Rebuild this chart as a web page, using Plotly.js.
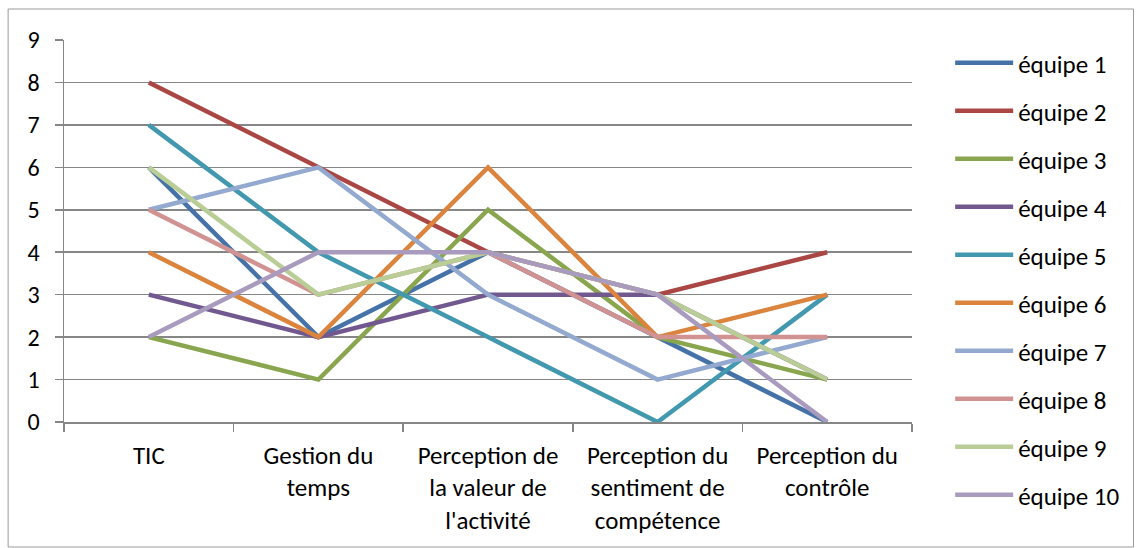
<!DOCTYPE html>
<html><head><meta charset="utf-8">
<script src="https://cdn.plot.ly/plotly-3.0.1.min.js"></script>
<style>html,body{margin:0;padding:0;background:#fff;}#chart{width:1137px;height:548px;}</style>
</head><body><div id="chart"></div>
<script>
const categories = ["TIC", "Gestion du<br>temps", "Perception de<br>la valeur de<br>l'activité", "Perception du<br>sentiment de<br>compétence", "Perception du<br>contrôle"];
const seriesNames = ["équipe 1","équipe 2","équipe 3","équipe 4","équipe 5","équipe 6","équipe 7","équipe 8","équipe 9","équipe 10"];
const equipe1 = [6, 2, 4, 2, 0];
const equipe2 = [8, 6, 4, 3, 4];
const equipe3 = [2, 1, 5, 2, 1];
const equipe4 = [3, 2, 3, 3, 1];
const equipe5 = [7, 4, 2, 0, 3];
const equipe6 = [4, 2, 6, 2, 3];
const equipe7 = [5, 6, 3, 1, 2];
const equipe8 = [5, 3, 4, 2, 2];
const equipe9 = [6, 3, 4, 3, 1];
const equipe10 = [2, 4, 4, 3, 0];
const yTicks = [0,1,2,3,4,5,6,7,8,9];

const seriesValues = [equipe1,equipe2,equipe3,equipe4,equipe5,equipe6,equipe7,equipe8,equipe9,equipe10];
const colors = ["#4572A7","#AA4643","#89A54E","#71588F","#4198AF","#DB843D","#93A9CF","#D19392","#B9CD96","#A99BBD"];

const traces = seriesValues.map((v,i)=>({
  type:"scatter", mode:"lines", x:categories, y:v, name:seriesNames[i],
  legendgroup:"g"+i,
  line:{color:colors[i], width:4.5}
}));

const FONT = "Carlito, Lato, sans-serif";
const layout = {
  width:1137, height:548,
  margin:{l:64, r:223, t:40, b:126},
  paper_bgcolor:"#fff", plot_bgcolor:"#fff",
  font:{family:FONT, size:25, color:"#000"},
  showlegend:true,
  legend:{x:1.045, xanchor:"left", y:1.0, yanchor:"top", tracegroupgap:12.5, maxheight:540, itemwidth:58,
          font:{family:FONT, size:25, color:"#000"}, bgcolor:"rgba(0,0,0,0)"},
  xaxis:{type:"category", range:[-0.5,4.5], tickson:"boundaries", ticks:"outside", ticklen:8,
         tickcolor:"#868686", tickwidth:1.5, showline:true, linecolor:"#868686", linewidth:1.5,
         showgrid:false, zeroline:false, tickfont:{family:FONT, size:25}, ticklabelstandoff:10, fixedrange:true},
  yaxis:{range:[0,9], tickvals:yTicks, ticks:"outside", ticklen:8, tickcolor:"#868686", tickwidth:1.5,
         showline:true, linecolor:"#868686", linewidth:1.5, gridcolor:"#868686", gridwidth:1.5,
         zeroline:false, tickfont:{family:FONT, size:24}, ticklabelstandoff:10},
  shapes:[{type:"rect", xref:"paper", yref:"paper", x0:(8-64)/850, x1:(1136-64)/850, y0:(422-547)/382, y1:(422-9)/382,
           line:{color:"#9a9a9a", width:1}, fillcolor:"rgba(0,0,0,0)", layer:"below"}]
};
Plotly.newPlot("chart", traces, layout, {displayModeBar:false, staticPlot:true});
</script></body></html>
